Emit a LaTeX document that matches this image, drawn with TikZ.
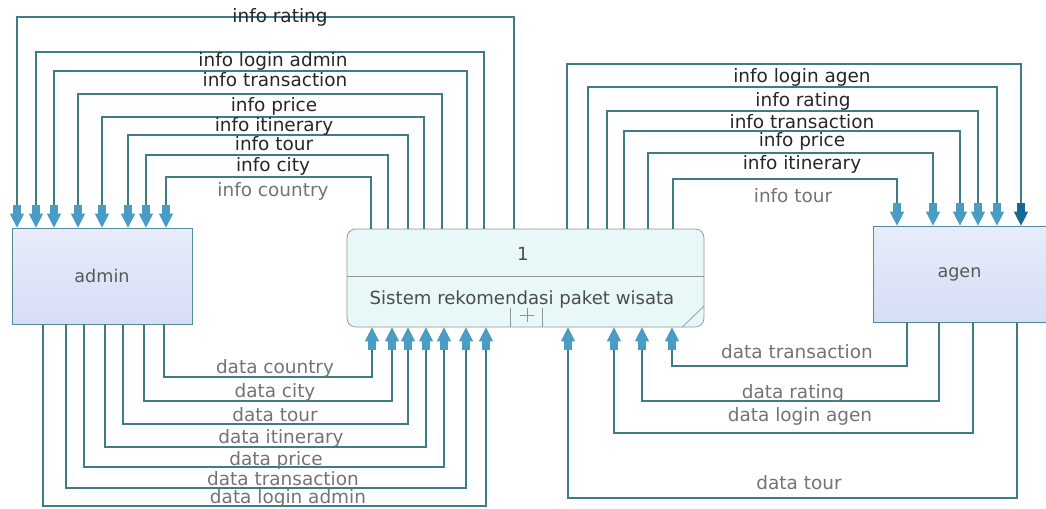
\documentclass[tikz,border=0pt]{standalone}
\usepackage{fontspec}
\setmainfont{DejaVu Sans}
\usetikzlibrary{arrows.meta,positioning}
\definecolor{flowline}{RGB}{62,124,134}
\definecolor{flowtip}{RGB}{74,156,196}
\definecolor{flowtipdark}{RGB}{22,104,146}
\definecolor{entitytop}{RGB}{232,236,250}
\definecolor{entitybottom}{RGB}{214,222,246}
\definecolor{entityborder}{RGB}{84,140,152}
\definecolor{procfill}{RGB}{232,248,248}
\definecolor{procborder}{RGB}{140,150,150}
\tikzset{
>={Rectangle[width=5pt,length=5pt,color=flowtip,fill=flowtip]Triangle[width=8pt,length=8pt,color=flowtip,fill=flowtip]},
  entity/.style={
    rectangle,
    draw=entityborder,
    top color=entitytop,
    bottom color=entitybottom,
    minimum width=3.6cm,
    minimum height=1.92cm,
    text=black!65,
    font=\fontsize{10}{12}\selectfont},
  process/.style={
    rectangle,
    rounded corners=5pt,
    draw=procborder,
    fill=procfill,
    minimum width=7.14cm,
    minimum height=1.96cm},
  proctext/.style={text=black!70, font=\fontsize{10.3}{12}\selectfont},
  flow/.style={draw=flowline, line width=0.6pt, ->},
  flowdark/.style={draw=flowline, line width=0.6pt,
    -{Rectangle[width=5pt,length=5pt,color=flowtipdark,fill=flowtipdark]Triangle[width=8pt,length=8pt,color=flowtipdark,fill=flowtipdark]}},
  flowtext/.style={text=black!85, font=\fontsize{10.5}{12}\selectfont, inner sep=0pt},
  flowtextlight/.style={text=black!55, font=\fontsize{10.5}{12}\selectfont, inner sep=0pt},
}

\begin{document}
\begin{tikzpicture}[x=0.02cm, y=-0.02cm]
  \useasboundingbox (0,0) rectangle (1046,508);
  % the three boxes
  \node[entity] (admin) at (102,276) {admin};
  \node[entity, minimum width=3.46cm] (agen) at (959.5,274) {agen};
  \node[process] (proc) at (525.5,278) {};
  \draw[procborder] (proc.west |- 0,276) -- (proc.east |- 0,276);
  \node[proctext] (procid) at (523,254) {1};
  \node[proctext] (procname) at (522,299) {Sistem rekomendasi paket wisata};
  \draw[procborder] (proc.south -| 510,0) -- (510,308)
    (proc.south -| 542,0) -- (542,308);
  \draw[procborder] (520,315) -- (534,315) (527,308) -- (527,322);
  \draw[procborder] (proc.south -| 682,0) -- (704,306);

  % flows from the process to admin
  \draw[flow] (proc.north -| 514,0) |- (17,17) -- (admin.north -| 17,0);
  \draw[flow] (proc.north -| 484,0) |- (36,52) -- (admin.north -| 36,0);
  \draw[flow] (proc.north -| 467,0) |- (54,71) -- (admin.north -| 54,0);
  \draw[flow] (proc.north -| 442,0) |- (78,94) -- (admin.north -| 78,0);
  \draw[flow] (proc.north -| 424,0) |- (102,117) -- (admin.north -| 102,0);
  \draw[flow] (proc.north -| 408,0) |- (128,135) -- (admin.north -| 128,0);
  \draw[flow] (proc.north -| 388,0) |- (146,155) -- (admin.north -| 146,0);
  \draw[flow] (proc.north -| 371,0) |- (166,177) -- (admin.north -| 166,0);
  \node[flowtext] (irating) at (280,17) {info rating};
  \node[flowtext] (iloginadmin) at (273,61) {info login admin};
  \node[flowtext] (itransaction) at (275,80) {info transaction};
  \node[flowtext] (iprice) at (274,106) {info price};
  \node[flowtext] (iitinerary) at (274,126) {info itinerary};
  \node[flowtext] (itour) at (274,144) {info tour};
  \node[flowtext] (icity) at (273,166) {info city};
  \node[flowtextlight] (icountry) at (273,191) {info country};

  % flows from the process to agen
  \draw[flowdark] (proc.north -| 567,0) |- (1021,64) -- (agen.north -| 1021,0);
  \draw[flow] (proc.north -| 588,0) |- (997,87) -- (agen.north -| 997,0);
  \draw[flow] (proc.north -| 607,0) |- (978,111) -- (agen.north -| 978,0);
  \draw[flow] (proc.north -| 624,0) |- (960,131) -- (agen.north -| 960,0);
  \draw[flow] (proc.north -| 648,0) |- (933,153) -- (agen.north -| 933,0);
  \draw[flow] (proc.north -| 673,0) |- (897,179) -- (agen.north -| 897,0);
  \node[flowtext] (iloginagen) at (802,77) {info login agen};
  \node[flowtext] (iratingagen) at (803,101) {info rating};
  \node[flowtext] (itransactionagen) at (802,122) {info transaction};
  \node[flowtext] (ipriceagen) at (802,141) {info price};
  \node[flowtext] (iitineraryagen) at (802,164) {info itinerary};
  \node[flowtextlight] (itouragen) at (793,196) {info tour};

  % flows from admin to the process
  \draw[flow] (admin.south -| 164,0) |- (372,377) -- (proc.south -| 372,0);
  \draw[flow] (admin.south -| 144,0) |- (392,401) -- (proc.south -| 392,0);
  \draw[flow] (admin.south -| 123,0) |- (408,424) -- (proc.south -| 408,0);
  \draw[flow] (admin.south -| 105,0) |- (426,447) -- (proc.south -| 426,0);
  \draw[flow] (admin.south -| 84,0) |- (444,467) -- (proc.south -| 444,0);
  \draw[flow] (admin.south -| 66,0) |- (466,488) -- (proc.south -| 466,0);
  \draw[flow] (admin.south -| 43,0) |- (486,506) -- (proc.south -| 486,0);
  \node[flowtextlight] (dcountry) at (275,368) {data country};
  \node[flowtextlight] (dcity) at (275,392) {data city};
  \node[flowtextlight] (dtour) at (275,415) {data tour};
  \node[flowtextlight] (ditinerary) at (281,438) {data itinerary};
  \node[flowtextlight] (dprice) at (276,460) {data price};
  \node[flowtextlight] (dtransaction) at (283,479) {data transaction};
  \node[flowtextlight] (dloginadmin) at (288,498) {data login admin};

  % flows from agen to the process
  \draw[flow] (agen.south -| 907,0) |- (672,366) -- (proc.south -| 672,0);
  \draw[flow] (agen.south -| 939,0) |- (642,401) -- (proc.south -| 642,0);
  \draw[flow] (agen.south -| 973,0) |- (614,433) -- (proc.south -| 614,0);
  \draw[flow] (agen.south -| 1017,0) |- (568,498) -- (proc.south -| 568,0);
  \node[flowtextlight] (dtransactionagen) at (797,352) {data transaction};
  \node[flowtextlight] (dratingagen) at (793,393) {data rating};
  \node[flowtextlight] (dloginagen) at (800,416) {data login agen};
  \node[flowtextlight] (dtouragen) at (799,483) {data tour};
\end{tikzpicture}
\end{document}
